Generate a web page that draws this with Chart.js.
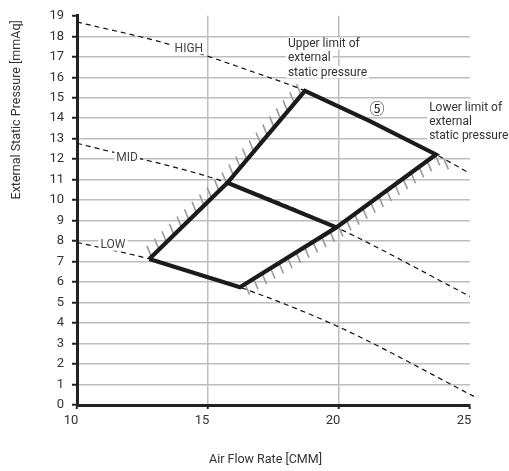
<!DOCTYPE html>
<html>
<head>
<meta charset="utf-8">
<script src="https://cdn.jsdelivr.net/npm/chart.js@4.4.1/dist/chart.umd.min.js"></script>
<style>
  html, body { margin: 0; padding: 0; background: #ffffff; }
  #wrap { width: 509px; height: 471px; position: relative; }
</style>
</head>
<body>
<div id="wrap"><canvas id="c" width="509" height="471"></canvas></div>
<script>
// ---- data ----
const xTickValues = [10, 15, 20, 25];
const yTickValues = [0,1,2,3,4,5,6,7,8,9,10,11,12,13,14,15,16,17,18,19];

// fan curves (Air Flow Rate [CMM] vs External Static Pressure [mmAq])
const highCurveX = [10, 13.6, 16.86, 18.7, 21.18, 23.7, 25];
const highCurveY = [18.7, 17.58, 16.2, 15.34, 13.86, 12.23, 11.3];
const midCurveX  = [10, 15.74, 19.9, 25];
const midCurveY  = [12.78, 10.85, 8.67, 5.3];
const lowCurveX  = [10, 12.76, 16.22, 20.01, 25.15];
const lowCurveY  = [7.94, 7.13, 5.75, 3.80, 0.42];

// operating envelope (closed outline) and the MID line across it
const envelopeX = [12.76, 15.74, 18.7, 21.18, 23.7, 19.9, 16.22, 12.76];
const envelopeY = [7.13, 10.85, 15.34, 13.86, 12.23, 8.67, 5.75, 7.13];
const midInnerX = [15.74, 19.9];
const midInnerY = [10.85, 8.67];

// indices into the envelope for the hatched limits
const upperLimitIdx = [0, 1, 2];      // upper limit of external static pressure
const lowerLimitIdx = [6, 5, 4];      // lower limit of external static pressure

// text
const curveLabels = ["HIGH", "MID", "LOW"];
const curveLabelX = [14.27, 11.91, 11.37];
const curveLabelY = [17.41, 12.06, 7.82];
const upperNote = ["Upper limit of", "external", "static pressure"];
const lowerNote = ["Lower limit of", "external", "static pressure"];
const noteMark = "⑤";
const xTitle = "Air Flow Rate [CMM]";
const yTitle = "External Static Pressure [mmAq]";

const pts = (xs, ys) => xs.map((x, i) => ({ x: x, y: ys[i] }));

const FONT = "Roboto";

const hatchPlugin = {
  id: 'hatch',
  beforeDatasetsDraw(chart) {
    const ctx = chart.ctx, xs = chart.scales.x, ys = chart.scales.y;
    const toPx = (idx) => idx.map(i => [xs.getPixelForValue(envelopeX[i]), ys.getPixelForValue(envelopeY[i])]);
    function hatch(poly, dir, spacing, start) {
      const segs = [];
      let total = 0;
      for (let i = 0; i < poly.length - 1; i++) {
        const dx = poly[i+1][0] - poly[i][0], dy = poly[i+1][1] - poly[i][1];
        const L = Math.hypot(dx, dy);
        segs.push({ p: poly[i], dx, dy, L, s0: total });
        total += L;
      }
      ctx.beginPath();
      for (let s = start; s <= total; s += spacing) {
        const seg = segs.find(g => s >= g.s0 && s <= g.s0 + g.L) || segs[segs.length - 1];
        const t = (s - seg.s0) / seg.L;
        const px = seg.p[0] + seg.dx * t, py = seg.p[1] + seg.dy * t;
        ctx.moveTo(px, py);
        ctx.lineTo(px + dir[0], py + dir[1]);
      }
      ctx.stroke();
    }
    ctx.save();
    ctx.strokeStyle = '#9a9a9a';
    ctx.lineWidth = 1.6;
    hatch(toPx(upperLimitIdx), [-4.5, -11], 10.5, 3);
    const low = toPx(lowerLimitIdx);
    const last = low[low.length - 1];
    const ex = xs.getPixelForValue(highCurveX[highCurveX.length - 1]);
    const ey = ys.getPixelForValue(highCurveY[highCurveY.length - 1]);
    const L = Math.hypot(ex - last[0], ey - last[1]);
    low.push([last[0] + (ex - last[0]) / L * 16, last[1] + (ey - last[1]) / L * 16]);
    hatch(low, [4.5, 10.5], 10, 6);
    ctx.restore();
  }
};

const textPlugin = {
  id: 'texts',
  afterDatasetsDraw(chart) {
    const ctx = chart.ctx, xs = chart.scales.x, ys = chart.scales.y, ca = chart.chartArea;
    ctx.save();
    ctx.textBaseline = 'middle';
    function label(txt, x, y, align, color, size) {
      ctx.font = size + 'px ' + FONT;
      const w = ctx.measureText(txt).width;
      const left = align === 'center' ? x - w / 2 : x;
      ctx.fillStyle = '#ffffff';
      ctx.fillRect(left - 2, y - 6, w + 4, 12);
      ctx.fillStyle = color;
      ctx.textAlign = 'left';
      ctx.fillText(txt, left, y + 0.5);
    }
    curveLabels.forEach((t, i) => label(t, xs.getPixelForValue(curveLabelX[i]), ys.getPixelForValue(curveLabelY[i]), 'center', '#444', 12));
    const ux = xs.getPixelForValue(18.05), uy = ys.getPixelForValue(17.65);
    upperNote.forEach((t, i) => label(t, ux, uy + i * 14.3, 'left', '#333', 12));
    const lx = xs.getPixelForValue(23.44), ly = ys.getPixelForValue(14.53);
    lowerNote.forEach((t, i) => label(t, lx, ly + i * 14.3, 'left', '#333', 12));
    ctx.font = '15px "Noto Sans CJK JP"';
    ctx.textAlign = 'center';
    ctx.fillStyle = '#222';
    ctx.fillText(noteMark, xs.getPixelForValue(21.45), ys.getPixelForValue(14.53) + 1);
    ctx.font = '12.5px ' + FONT;
    ctx.fillStyle = '#333';
    ctx.textAlign = 'center';
    ctx.fillText(xTitle, (ca.left + ca.right) / 2 - 8, ca.bottom + 55);
    ctx.translate(17, ca.top + 94);
    ctx.rotate(-Math.PI / 2);
    ctx.fillText(yTitle, 0, 0);
    ctx.restore();
  }
};

const dashed = (xs, ys, extra) => Object.assign({
  data: pts(xs, ys), showLine: true, pointRadius: 0, borderColor: '#111', borderWidth: 1.2,
  borderDash: [5, 4], cubicInterpolationMode: 'monotone', order: 5
}, extra || {});

new Chart(document.getElementById('c'), {
  type: 'scatter',
  data: {
    datasets: [
      { data: pts(envelopeX, envelopeY), showLine: true, pointRadius: 0, borderColor: '#1b1b1b',
        borderWidth: 4.2, borderJoinStyle: 'miter', tension: 0, order: 0 },
      { data: pts(midInnerX, midInnerY), showLine: true, pointRadius: 0, borderColor: '#1b1b1b',
        borderWidth: 4.2, borderJoinStyle: 'miter', tension: 0, order: 0 },
      dashed(highCurveX, highCurveY),
      dashed(midCurveX, midCurveY),
      dashed(lowCurveX, lowCurveY, { clip: false })
    ]
  },
  options: {
    responsive: false,
    animation: false,
    events: [],
    layout: { padding: { top: 14, right: 39, left: 0, bottom: 0 } },
    plugins: { legend: { display: false }, tooltip: { enabled: false } },
    scales: {
      x: {
        type: 'linear', min: 10, max: 25,
        afterBuildTicks: (s) => { s.ticks = xTickValues.map(v => ({ value: v })); },
        afterFit: (s) => { s.height = 66; },
        ticks: { color: '#333', font: { family: FONT, size: 13 }, padding: 4, labelOffset: -6, maxRotation: 0 },
        grid: {
          color: (c) => (c.tick && (c.tick.value === 15 || c.tick.value === 20)) ? '#bdbdbd' : 'rgba(0,0,0,0)',
          lineWidth: 1.5, tickLength: 4, tickColor: '#222', tickWidth: 2
        },
        border: { display: true, color: '#222', width: 3 }
      },
      y: {
        type: 'linear', min: 0, max: 19,
        afterBuildTicks: (s) => { s.ticks = yTickValues.map(v => ({ value: v })); },
        afterFit: (s) => { s.width = 77; },
        ticks: { color: '#333', font: { family: FONT, size: 13 }, padding: 8 },
        grid: {
          color: (c) => (c.tick && c.tick.value > 0 && c.tick.value < 19) ? '#bdbdbd' : 'rgba(0,0,0,0)',
          lineWidth: 1.5, tickLength: 5, tickColor: '#222', tickWidth: 2
        },
        border: { display: true, color: '#222', width: 3 }
      }
    }
  },
  plugins: [hatchPlugin, textPlugin]
});
</script>
</body>
</html>
